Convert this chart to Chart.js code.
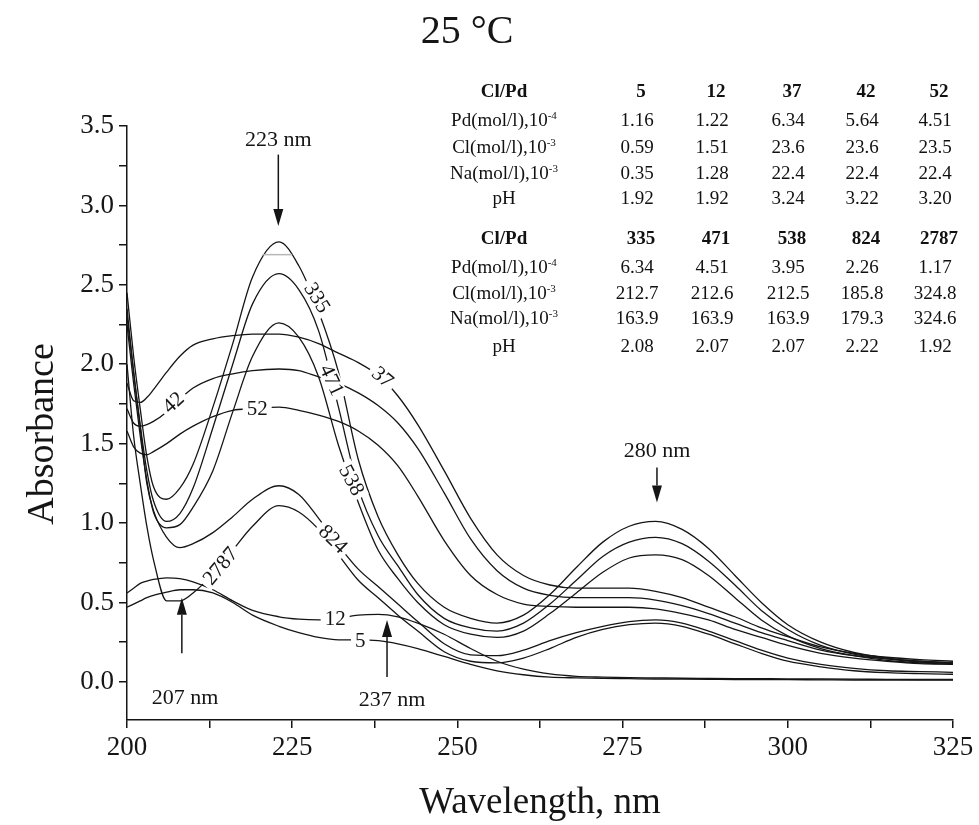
<!DOCTYPE html>
<html>
<head>
<meta charset="utf-8">
<script src="https://cdn.jsdelivr.net/npm/chart.js@4.4.1/dist/chart.umd.min.js"></script>
<style>
html,body{margin:0;padding:0;background:#fff;}
#wrap{position:relative;width:979px;height:825px;overflow:hidden;}
#c{position:absolute;left:0;top:0;}
#tbl{position:absolute;left:0;top:0;width:979px;height:825px;font-family:"Liberation Serif","Times New Roman",serif;font-size:19px;color:#111;pointer-events:none;}
#tbl span{position:absolute;transform:translate(-50%,-50%);white-space:nowrap;line-height:1;}
#tbl sup{font-size:11px;vertical-align:0;position:relative;top:-7px;}
#tbl .b{font-weight:bold;}
</style>
</head>
<body>
<div id="wrap">
<canvas id="c" width="979" height="825"></canvas>
<div id="tbl"></div>
</div>
<script>
// ---------------- data ----------------
const wavelengths = [200,201,202,203,204,206,208,210,213,216,219,223,226,229,232,235,238,241,244,248,252,256,260,264,268,272,276,280,284,288,292,296,300,305,310,315,320,325];

const s335 = [2.45,2.05,1.72,1.42,1.23,1.15,1.22,1.37,1.73,2.13,2.55,2.77,2.62,2.33,1.95,1.40,1.04,0.80,0.62,0.47,0.40,0.37,0.42,0.55,0.72,0.88,0.98,1.01,0.96,0.84,0.67,0.50,0.36,0.25,0.185,0.15,0.13,0.12];
const s471 = [2.35,1.95,1.62,1.33,1.14,1.01,1.06,1.22,1.60,2.00,2.38,2.57,2.47,2.21,1.73,1.22,0.92,0.73,0.55,0.40,0.34,0.32,0.37,0.49,0.64,0.79,0.88,0.91,0.87,0.76,0.61,0.45,0.33,0.23,0.175,0.145,0.125,0.115];
const s538 = [2.25,1.88,1.55,1.27,1.07,0.97,0.99,1.10,1.33,1.70,2.05,2.26,2.17,1.92,1.49,1.13,0.83,0.65,0.50,0.36,0.30,0.28,0.32,0.43,0.56,0.69,0.78,0.80,0.77,0.67,0.53,0.39,0.29,0.21,0.165,0.135,0.12,0.11];
const s37  = [1.88,1.77,1.76,1.79,1.84,1.95,2.05,2.12,2.16,2.18,2.19,2.19,2.17,2.13,2.07,2.01,1.93,1.80,1.62,1.33,1.03,0.80,0.67,0.61,0.59,0.59,0.59,0.57,0.53,0.47,0.41,0.34,0.285,0.22,0.18,0.155,0.14,0.13];
const s42  = [1.72,1.63,1.61,1.62,1.64,1.70,1.78,1.85,1.91,1.94,1.96,1.97,1.96,1.92,1.88,1.82,1.74,1.63,1.47,1.19,0.90,0.70,0.59,0.545,0.53,0.53,0.53,0.515,0.48,0.43,0.37,0.31,0.26,0.20,0.165,0.145,0.13,0.12];
const s52  = [1.58,1.48,1.44,1.43,1.45,1.50,1.56,1.61,1.67,1.71,1.72,1.73,1.71,1.68,1.64,1.58,1.49,1.36,1.17,0.89,0.67,0.55,0.49,0.475,0.47,0.47,0.47,0.46,0.43,0.39,0.33,0.28,0.23,0.18,0.15,0.13,0.115,0.11];
const s824 = [2.30,1.95,1.60,1.25,1.08,0.91,0.845,0.87,0.94,1.04,1.15,1.235,1.18,1.03,0.86,0.71,0.60,0.49,0.38,0.24,0.17,0.165,0.20,0.26,0.31,0.35,0.38,0.39,0.37,0.32,0.26,0.20,0.15,0.11,0.085,0.07,0.065,0.06];
const s2787= [2.00,1.55,1.25,0.98,0.77,0.51,0.51,0.56,0.68,0.83,0.98,1.11,1.07,0.96,0.80,0.64,0.53,0.42,0.32,0.19,0.13,0.12,0.15,0.21,0.28,0.33,0.36,0.37,0.35,0.30,0.24,0.18,0.13,0.095,0.07,0.058,0.052,0.048];
const s12  = [0.56,0.59,0.62,0.635,0.645,0.655,0.65,0.63,0.58,0.51,0.45,0.41,0.395,0.39,0.40,0.42,0.425,0.41,0.37,0.30,0.21,0.13,0.08,0.05,0.035,0.03,0.027,0.025,0.023,0.022,0.021,0.02,0.019,0.018,0.017,0.016,0.015,0.015];
const s5   = [0.47,0.49,0.51,0.53,0.545,0.565,0.58,0.58,0.56,0.50,0.42,0.35,0.31,0.28,0.265,0.265,0.26,0.24,0.21,0.16,0.11,0.07,0.045,0.03,0.025,0.022,0.02,0.018,0.017,0.016,0.015,0.015,0.014,0.013,0.012,0.012,0.011,0.011];

const greyMarkX = [220.5, 225];
const greyMarkY = [2.69, 2.69];

const xTicks = [200,212.5,225,237.5,250,262.5,275,287.5,300,312.5,325];
const yTicks = [0,0.25,0.5,0.75,1,1.25,1.5,1.75,2,2.25,2.5,2.75,3,3.25,3.5];

const seriesNames = ['335','471','538','37','42','52','824','2787','12','5'];
const seriesValues = [s335,s471,s538,s37,s42,s52,s824,s2787,s12,s5];

// table
const rowLabels = ['Pd(mol/l),10<sup>-4</sup>','Cl(mol/l),10<sup>-3</sup>','Na(mol/l),10<sup>-3</sup>','pH'];
const ratio1 = ['5','12','37','42','52'];
const pd1 = ['1.16','1.22','6.34','5.64','4.51'];
const cl1 = ['0.59','1.51','23.6','23.6','23.5'];
const na1 = ['0.35','1.28','22.4','22.4','22.4'];
const ph1 = ['1.92','1.92','3.24','3.22','3.20'];
const ratio2 = ['335','471','538','824','2787'];
const pd2 = ['6.34','4.51','3.95','2.26','1.17'];
const cl2 = ['212.7','212.6','212.5','185.8','324.8'];
const na2 = ['163.9','163.9','163.9','179.3','324.6'];
const ph2 = ['2.08','2.07','2.07','2.22','1.92'];

// ---------------- annotations (style / placement) ----------------
const curveLabels = [
  {t:'335', x:228.8, y:2.42, a:58},
  {t:'471', x:231.0, y:1.90, a:65},
  {t:'37',  x:238.7, y:1.92, a:40},
  {t:'42',  x:207.0, y:1.76, a:-42},
  {t:'52',  x:219.7, y:1.72, a:0},
  {t:'538', x:234.0, y:1.27, a:62},
  {t:'824', x:231.2, y:0.90, a:45},
  {t:'2787',x:214.1, y:0.73, a:-50},
  {t:'12',  x:231.5, y:0.40, a:0},
  {t:'5',   x:235.3, y:0.26, a:0}
];
const arrows = [
  {t:'223 nm', x:222.9, from:3.32, to:2.87, tx:222.9, ty:3.41},
  {t:'280 nm', x:280.2, from:1.35, to:1.13, tx:280.2, ty:1.45},
  {t:'207 nm', x:208.3, from:0.18, to:0.53, tx:208.8, ty:-0.10},
  {t:'237 nm', x:239.35,from:0.03, to:0.39, tx:240.1, ty:-0.115}
];

const SERIF = '"Liberation Serif","Times New Roman",serif';
const INK = '#151515';

// ---------------- table ----------------
(function buildTable(){
  const tbl = document.getElementById('tbl');
  const labelX = 504;
  const colX = [637,712,788,862,935];
  const blocks = [
    {ys:[90,119,146,172,197], head:ratio1, rows:[pd1,cl1,na1,ph1]},
    {ys:[237,266,292,317,345], head:ratio2, rows:[pd2,cl2,na2,ph2]}
  ];
  function put(html, x, y, cls){
    const s = document.createElement('span');
    s.innerHTML = html; s.style.left = x+'px'; s.style.top = y+'px';
    if (cls) s.className = cls;
    tbl.appendChild(s);
  }
  blocks.forEach(b=>{
    put('Cl/Pd', labelX, b.ys[0], 'b');
    b.head.forEach((v,i)=>put(v, colX[i]+4, b.ys[0], 'b'));
    b.rows.forEach((row,r)=>{
      put(rowLabels[r], labelX, b.ys[r+1]);
      row.forEach((v,i)=>put(v, colX[i], b.ys[r+1]));
    });
  });
})();

// ---------------- chart ----------------
const datasets = seriesValues.map((vals, k)=>({
  label: seriesNames[k],
  data: wavelengths.map((w,i)=>({x:w, y:vals[i]})),
  borderColor: INK,
  borderWidth: 1.3,
  pointRadius: 0,
  fill: false,
  cubicInterpolationMode: 'monotone'
}));
datasets.unshift({
  label: 'mark',
  data: greyMarkX.map((w,i)=>({x:w, y:greyMarkY[i]})),
  borderColor: '#b8b8b8',
  borderWidth: 1.5,
  pointRadius: 0,
  fill: false
});

const annotPlugin = {
  id: 'annot',
  afterDatasetsDraw(chart){
    const ctx = chart.ctx, xs = chart.scales.x, ys = chart.scales.y;
    ctx.save();
    ctx.font = '21px ' + SERIF;
    ctx.textAlign = 'center';
    ctx.textBaseline = 'middle';
    curveLabels.forEach(l=>{
      const px = xs.getPixelForValue(l.x), py = ys.getPixelForValue(l.y);
      ctx.save();
      ctx.translate(px, py);
      ctx.rotate(l.a*Math.PI/180);
      const w = ctx.measureText(l.t).width;
      ctx.fillStyle = '#fff';
      ctx.fillRect(-w/2-4, -9, w+8, 18);
      ctx.fillStyle = INK;
      ctx.fillText(l.t, 0, 1);
      ctx.restore();
    });
    ctx.restore();
  },
  afterDraw(chart){
    const ctx = chart.ctx, xs = chart.scales.x, ys = chart.scales.y, ca = chart.chartArea;
    ctx.save();
    arrows.forEach(a=>{
      const px = xs.getPixelForValue(a.x);
      const p0 = ys.getPixelForValue(a.from), p1 = ys.getPixelForValue(a.to);
      const dir = p1 > p0 ? 1 : -1;
      const headL = 17, headW = 5;
      ctx.strokeStyle = INK; ctx.fillStyle = INK; ctx.lineWidth = 1.5;
      ctx.beginPath(); ctx.moveTo(px, p0); ctx.lineTo(px, p1 - dir*headL); ctx.stroke();
      ctx.beginPath();
      ctx.moveTo(px, p1);
      ctx.lineTo(px - headW, p1 - dir*headL);
      ctx.lineTo(px + headW, p1 - dir*headL);
      ctx.closePath(); ctx.fill();
      ctx.font = '22px ' + SERIF;
      ctx.textAlign = 'center'; ctx.textBaseline = 'middle';
      ctx.fillText(a.t, xs.getPixelForValue(a.tx), ys.getPixelForValue(a.ty));
    });
    // chart title
    ctx.fillStyle = INK;
    ctx.font = '40px ' + SERIF;
    ctx.textAlign = 'center'; ctx.textBaseline = 'middle';
    ctx.fillText('25 °C', 467, 32);
    // y axis title
    ctx.save();
    ctx.translate(43, 434);
    ctx.rotate(-Math.PI/2);
    ctx.font = '38px ' + SERIF;
    ctx.fillText('Absorbance', 0, 0);
    ctx.restore();
    ctx.restore();
  }
};

new Chart(document.getElementById('c'), {
  type: 'line',
  data: { datasets },
  plugins: [annotPlugin],
  options: {
    responsive: false,
    animation: false,
    devicePixelRatio: 1,
    layout: { padding: { top: 126, right: 26, left: 0, bottom: 0 } },
    plugins: { legend: { display: false }, tooltip: { enabled: false }, title: { display: false } },
    scales: {
      x: {
        type: 'linear', min: 200, max: 325,
        afterBuildTicks(s){ s.ticks = xTicks.map(v=>({value:v})); },
        afterFit(s){ s.height = 105; },
        ticks: {
          autoSkip: false, maxRotation: 0, padding: 4, color: INK,
          font: { family: SERIF, size: 27 },
          callback: v => (v % 25 === 0 ? String(v) : '')
        },
        grid: { display: true, drawOnChartArea: false, drawTicks: true, tickLength: 8, color: INK, lineWidth: 1.5 },
        border: { display: true, color: INK, width: 1.5 },
        title: { display: true, text: 'Wavelength, nm', color: INK, font: { family: SERIF, size: 37 }, padding: { top: 0, bottom: 0 } }
      },
      y: {
        type: 'linear', min: -0.24, max: 3.5,
        afterBuildTicks(s){ s.ticks = yTicks.map(v=>({value:v})); },
        afterFit(s){ s.width = 127; },
        ticks: {
          autoSkip: false, padding: 5, color: INK,
          font: { family: SERIF, size: 27 },
          callback: v => (Math.abs(v*2 - Math.round(v*2)) < 1e-6 ? v.toFixed(1) : '')
        },
        grid: { display: true, drawOnChartArea: false, drawTicks: true, tickLength: 8, color: INK, lineWidth: 1.5 },
        border: { display: true, color: INK, width: 1.5 },
        title: { display: false }
      }
    }
  }
});
</script>
</body>
</html>
